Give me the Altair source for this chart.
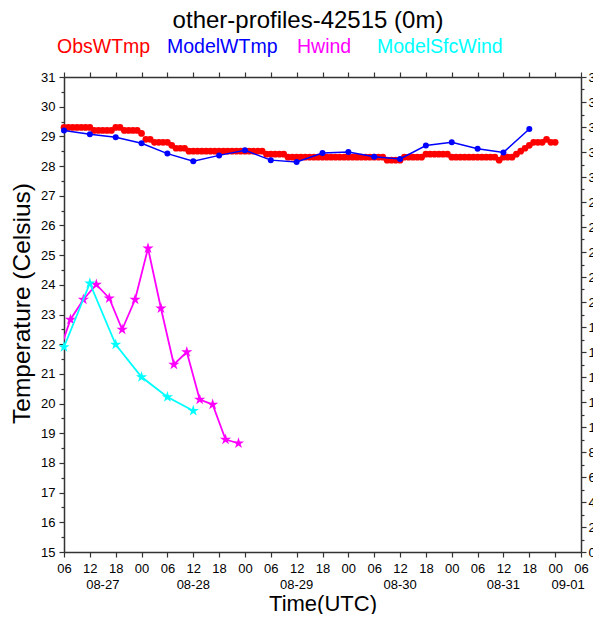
import altair as alt
import pandas as pd

# ---------------- data ----------------
obs_hours = list(range(0, 115))
obs_temp = [
    29.3, 29.3, 29.3, 29.3, 29.3, 29.3, 29.3,
    29.2, 29.2, 29.2, 29.2, 29.2,
    29.3, 29.3,
    29.2, 29.2, 29.2, 29.2,
    29.1,
    28.9, 28.9,
    28.8, 28.8, 28.8, 28.8,
    28.7,
    28.6, 28.6, 28.6,
    28.5, 28.5, 28.5, 28.5, 28.5, 28.5, 28.5, 28.5, 28.5,
    28.5, 28.5, 28.5, 28.5, 28.5, 28.5, 28.5, 28.5, 28.5,
    28.4, 28.4, 28.4, 28.4, 28.4,
    28.3, 28.3, 28.3, 28.3, 28.3, 28.3, 28.3, 28.3, 28.3, 28.3, 28.3, 28.3,
    28.3, 28.3, 28.3, 28.3, 28.3, 28.3, 28.3, 28.3, 28.3, 28.3, 28.3,
    28.2, 28.2, 28.2, 28.2,
    28.3, 28.3, 28.3, 28.3, 28.3,
    28.4, 28.4, 28.4, 28.4, 28.4, 28.4,
    28.3, 28.3, 28.3, 28.3, 28.3, 28.3, 28.3, 28.3, 28.3, 28.3, 28.3,
    28.2,
    28.3, 28.3, 28.3,
    28.4, 28.5, 28.6, 28.7,
    28.8, 28.8, 28.8,
    28.9,
    28.8, 28.8,
]

model_hours = [0, 6, 12, 18, 24, 30, 36, 42, 48, 54, 60, 66, 72, 78, 84, 90, 96, 102, 108]
model_temp = [29.2, 29.07, 28.97, 28.77, 28.42, 28.16, 28.36, 28.53, 28.2, 28.14,
              28.44, 28.47, 28.31, 28.24, 28.69, 28.8, 28.58, 28.46, 29.25]

hwind_hours = [-1.5, 1.5, 4.5, 7.5, 10.5, 13.5, 16.5, 19.5, 22.5, 25.5, 28.5, 31.5, 34.5, 37.5, 40.5]
hwind_speed = [15.6, 18.6, 20.2, 21.4, 20.3, 17.8, 20.2, 24.3, 19.5, 15.0, 16.0, 12.2, 11.8, 9.0, 8.7]

sfc_hours = [0, 6, 12, 18, 24, 30]
sfc_speed = [16.4, 21.5, 16.6, 14.0, 12.4, 11.3]

tick_hours = [0, 6, 12, 18, 24, 30, 36, 42, 48, 54, 60, 66, 72, 78, 84, 90, 96, 102, 108, 114, 120]
tick_labels = ["06", "12", "18", "00", "06", "12", "18", "00", "06", "12", "18", "00",
               "06", "12", "18", "00", "06", "12", "18", "00", "06"]
date_hours = [9, 30, 54, 78, 102, 117]
date_labels = ["08-27", "08-28", "08-29", "08-30", "08-31", "09-01"]

legend_names = ["ObsWTmp", "ModelWTmp", "Hwind", "ModelSfcWind"]
title_text = "other-profiles-42515 (0m)"

# ---------------- style ----------------
W, H = 517, 475
FONT = "Liberation Sans"
RED, BLUE, MAG, CYAN = "#ff0000", "#0000ff", "#ff00ff", "#00ffff"
AXC = "#333333"
legend_colors = [RED, BLUE, MAG, CYAN]
legend_x = [-7, 103, 233, 313]
STAR = ("M0,-1L0.2245,-0.309L0.951,-0.309L0.363,0.118L0.588,0.809L0,0.382"
        "L-0.588,0.809L-0.363,0.118L-0.951,-0.309L-0.2245,-0.309Z")

obs_df = pd.DataFrame({"h": obs_hours, "v": obs_temp})
model_df = pd.DataFrame({"h": model_hours, "v": model_temp})
hwind_df = pd.DataFrame({"h": hwind_hours, "v": hwind_speed})
sfc_df = pd.DataFrame({"h": sfc_hours, "v": sfc_speed})
date_df = pd.DataFrame({"h": date_hours, "lab": date_labels})

label_js = "[" + ",".join(f"'{s}'" for s in tick_labels) + "]"
x_scale = alt.Scale(domain=[0, 120], nice=False, zero=False)

common_axis = dict(grid=False, labelFont=FONT, labelFontSize=13, labelColor="black",
                   domainColor=AXC, tickColor=AXC, domainWidth=1.5, tickWidth=1.2,
                   labelFlush=False, labelOverlap=False, titleFont=FONT,
                   titleFontWeight="normal", titleColor="black")

x_bottom = alt.Axis(orient="bottom", values=tick_hours,
                    labelExpr=f"{label_js}[round(datum.value/6)]",
                    title="Time(UTC)", titleFontSize=22, titlePadding=18,
                    labelPadding=5, tickSize=5, **common_axis)
x_top = alt.Axis(orient="top", values=tick_hours, labels=False, title=None, tickSize=5,
                 **common_axis)

left_vals = [15 + 0.5 * i for i in range(33)]
right_vals = list(range(0, 39))

y_left = alt.Axis(orient="left", values=left_vals,
                  labelExpr="datum.value % 1 === 0 ? format(datum.value, 'd') : ''",
                  tickSize={"condition": {"test": "datum.value % 1 === 0", "value": 5}, "value": 3},
                  title="Temperature (Celsius)", titleFontSize=24.5, titlePadding=6,
                  titleY=226, labelPadding=4, **common_axis)
y_right = alt.Axis(orient="right", values=right_vals,
                   labelExpr="datum.value % 2 === 0 ? format(datum.value, 'd') : ''",
                   tickSize={"condition": {"test": "datum.value % 2 === 0", "value": 5}, "value": 3},
                   title=None, labelPadding=2, **common_axis)

yl_scale = alt.Scale(domain=[15, 31], nice=False, zero=False)
yr_scale = alt.Scale(domain=[0, 38], nice=False, zero=False)

XB = alt.X("h:Q", scale=x_scale, axis=x_bottom)
XT = alt.X("h:Q", scale=x_scale, axis=x_top)
YL = alt.Y("v:Q", scale=yl_scale, axis=y_left)
YR = alt.Y("v:Q", scale=yr_scale, axis=y_right)

obs_pts = alt.Chart(obs_df).mark_circle(size=45, color=RED, opacity=1).encode(x=XB, y=YL)
model_line = alt.Chart(model_df).mark_line(color=BLUE, strokeWidth=1.5).encode(x=XB, y=YL)
model_pts = alt.Chart(model_df).mark_circle(size=36, color=BLUE, opacity=1).encode(x=XB, y=YL)

date_text = alt.Chart(date_df).mark_text(font=FONT, fontSize=13, baseline="middle",
                                         align="center", color="black").encode(
    x=XB, y=alt.value(H + 33), text="lab:N")

title_mark = alt.Chart(pd.DataFrame({"t": [title_text]})).mark_text(
    font=FONT, fontSize=24, align="center", baseline="alphabetic", color="black").encode(
    x=alt.value(244), y=alt.value(-49), text="t:N")

legend_layers = []
for name, col, px in zip(legend_names, legend_colors, legend_x):
    legend_layers.append(
        alt.Chart(pd.DataFrame({"t": [name]})).mark_text(
            font=FONT, fontSize=19.5, align="left", baseline="alphabetic", color=col).encode(
            x=alt.value(px), y=alt.value(-24), text="t:N"))

left_group = alt.layer(obs_pts, model_line, model_pts, date_text, title_mark, *legend_layers)

hwind_line = alt.Chart(hwind_df).mark_line(color=MAG, strokeWidth=1.8, clip=True).encode(x=XT, y=YR)
hwind_pts = alt.Chart(hwind_df).mark_point(shape=STAR, size=140, filled=True, color=MAG,
                                           opacity=1, clip=True).encode(x=XT, y=YR)
sfc_line = alt.Chart(sfc_df).mark_line(color=CYAN, strokeWidth=1.8).encode(x=XT, y=YR)
sfc_pts = alt.Chart(sfc_df).mark_point(shape=STAR, size=140, filled=True, color=CYAN,
                                       opacity=1).encode(x=XT, y=YR)

right_group = alt.layer(hwind_line, hwind_pts, sfc_line, sfc_pts)

chart = alt.layer(left_group, right_group).resolve_scale(
    x="independent", y="independent"
).properties(
    width=W, height=H,
    autosize=alt.AutoSizeParams(type="none"),
    padding={"left": 56, "top": 69, "right": 12, "bottom": 62},
).configure_view(stroke=None).configure(background="white")

chart.save("out.html", embed_options={"renderer": "svg", "actions": False})
